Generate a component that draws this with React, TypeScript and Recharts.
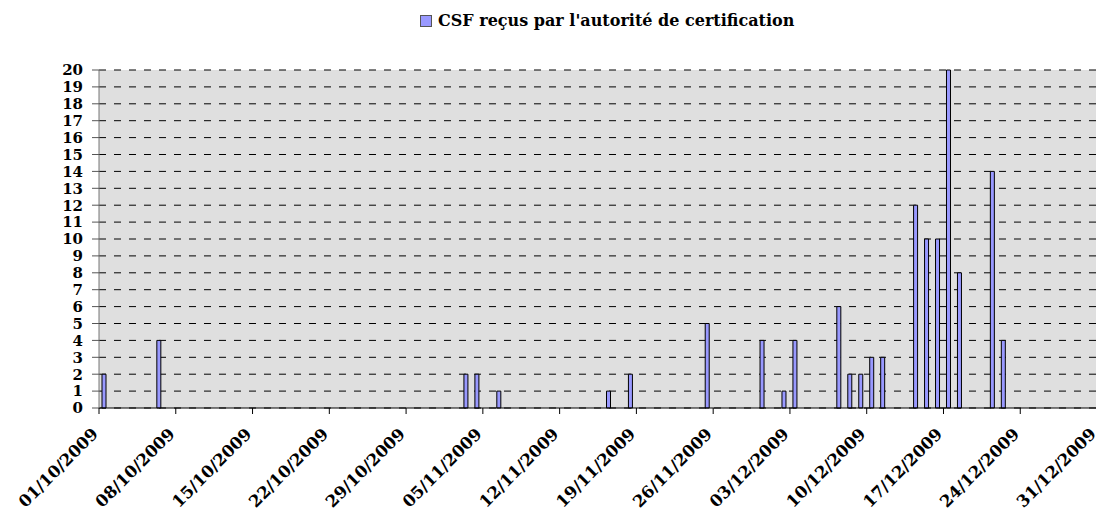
import React from 'react';
import { Bar, BarChart, CartesianGrid, Legend, XAxis, YAxis } from 'recharts';

// dates with at least one CSF received, and the count for that day
const barDates = [
  '01/10/2009', '06/10/2009', '03/11/2009', '04/11/2009', '06/11/2009', '16/11/2009',
  '18/11/2009', '25/11/2009', '30/11/2009', '02/12/2009', '03/12/2009', '07/12/2009',
  '08/12/2009', '09/12/2009', '10/12/2009', '11/12/2009', '14/12/2009', '15/12/2009',
  '16/12/2009', '17/12/2009', '18/12/2009', '21/12/2009', '22/12/2009',
];
const csfCounts = [2, 4, 2, 2, 1, 1, 2, 5, 4, 1, 4, 6, 2, 2, 3, 3, 12, 10, 10, 20, 8, 14, 4];

// date axis: every day from 01/10/2009 to 31/12/2009
const axisMonths = [
  { month: '10', days: 31 },
  { month: '11', days: 30 },
  { month: '12', days: 31 },
];
const yTicks = [0, 1, 2, 3, 4, 5, 6, 7, 8, 9, 10, 11, 12, 13, 14, 15, 16, 17, 18, 19, 20];
const seriesName = "CSF reçus par l'autorité de certification";

const allDays: string[] = [];
axisMonths.forEach(({ month, days }) => {
  for (let d = 1; d <= days; d++) {
    allDays.push(`${String(d).padStart(2, '0')}/${month}/2009`);
  }
});

const tableData = allDays.map((date) => {
  const i = barDates.indexOf(date);
  return { date, csf: i >= 0 ? csfCounts[i] : null };
});

const FONT = '"DejaVu Serif", serif';
const CHART_W = 1110;
const PLOT_LEFT = 99;
const PLOT_RIGHT_MARGIN = 2;
const BAND = (CHART_W - PLOT_LEFT - PLOT_RIGHT_MARGIN) / allDays.length;

// tick + rotated label sit on the left edge of each day slot (excel date axis)
const DateTick = (props: any) => {
  const { x, y, payload } = props;
  const half = payload && typeof payload.offset === 'number' && payload.offset > 0 ? payload.offset : BAND / 2;
  const x0 = x - half;
  const ax = x0;
  const ay = y + 27;
  return (
    <g>
      <line x1={x0} y1={y} x2={x0} y2={y + 6} stroke="#000" />
      <text
        x={ax}
        y={ay}
        textAnchor="end"
        transform={`rotate(-45, ${ax}, ${ay})`}
        fontFamily={FONT}
        fontWeight="bold"
        fontSize={16.5}
        fill="#000"
      >
        {payload.value}
      </text>
    </g>
  );
};

const LegendBox = () => (
  <div
    style={{
      display: 'flex',
      alignItems: 'center',
      fontFamily: FONT,
      fontWeight: 'bold',
      fontSize: 16,
      color: '#000',
      whiteSpace: 'nowrap',
    }}
  >
    <span
      style={{
        display: 'inline-block',
        width: 10,
        height: 10,
        background: '#9999FF',
        border: '1px solid #555',
        marginRight: 6,
      }}
    />
    {seriesName}
  </div>
);

const App = () => {
  return (
    <div style={{ margin: -8, width: 1104, height: 518, overflow: 'hidden', position: 'relative', background: '#fff' }}>
      <BarChart
        width={CHART_W}
        height={518}
        data={tableData}
        margin={{ top: 70, right: PLOT_RIGHT_MARGIN, left: 0, bottom: 10 }}
        barGap={0}
      >
        <CartesianGrid
          vertical={false}
          stroke="#000"
          strokeDasharray="7 8"
          fill="#DFDFDF"
          fillOpacity={1}
        />
        <XAxis
          dataKey="date"
          interval={6}
          height={100}
          tickLine={false}
          tickSize={0}
          tickMargin={0}
          axisLine={{ stroke: '#000' }}
          tick={<DateTick />}
        />
        <YAxis
          width={PLOT_LEFT}
          domain={[0, 20]}
          ticks={yTicks}
          interval={0}
          tickSize={7}
          tickMargin={9}
          axisLine={{ stroke: '#777' }}
          tickLine={{ stroke: '#555' }}
          tick={{ fontFamily: FONT, fontWeight: 'bold', fontSize: 15, fill: '#000' }}
        />
        <Legend
          layout="horizontal"
          verticalAlign="middle"
          align="center"
          content={<LegendBox />}
          wrapperStyle={{ position: 'absolute', top: 11, left: 420, width: 'auto', height: 'auto' }}
        />
        <Bar dataKey="csf" name={seriesName} fill="#9999FF" stroke="#000" strokeWidth={1} barSize={4} isAnimationActive={false} />
      </BarChart>
    </div>
  );
};

export default App;
